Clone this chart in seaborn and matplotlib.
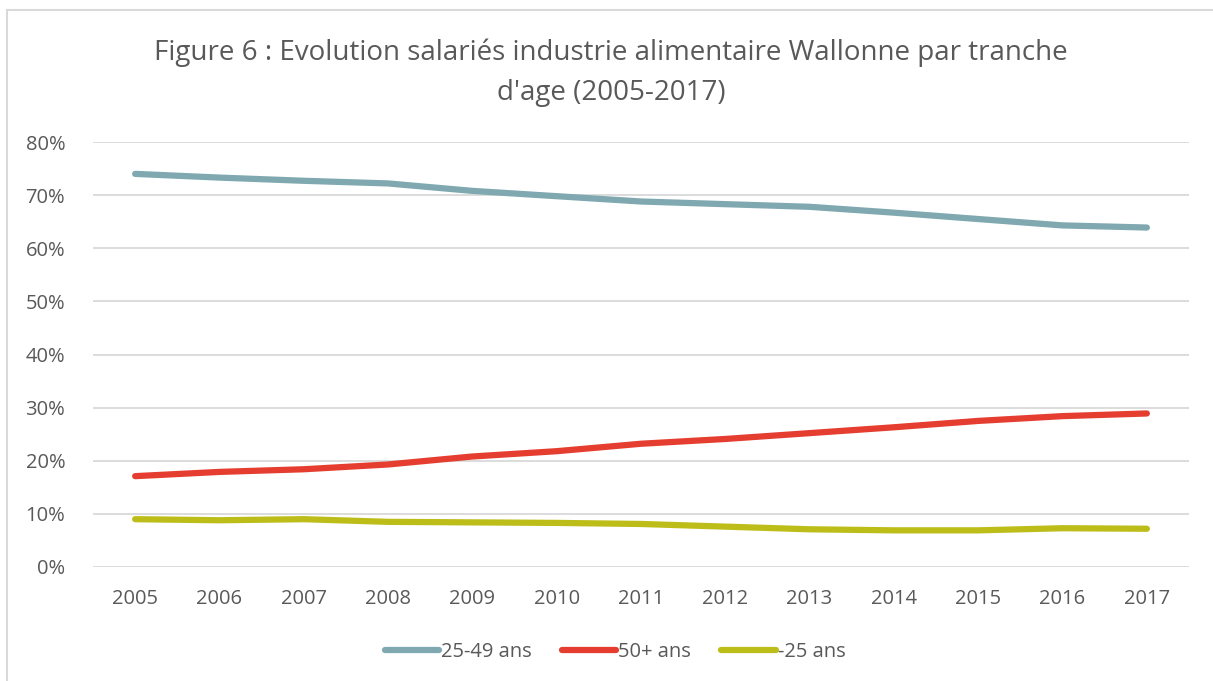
import matplotlib
matplotlib.use("Agg")
import matplotlib.pyplot as plt
import matplotlib.patches as mpatches
from matplotlib.ticker import PercentFormatter
import seaborn as sns
import pandas as pd

# values (share of employees, %)
years = [2005, 2006, 2007, 2008, 2009, 2010, 2011, 2012, 2013, 2014, 2015, 2016, 2017]
age_25_49 = [74.0, 73.3, 72.7, 72.2, 70.8, 69.8, 68.8, 68.3, 67.8, 66.7, 65.5, 64.3, 63.9]
age_50_plus = [17.1, 17.9, 18.4, 19.3, 20.8, 21.8, 23.2, 24.1, 25.2, 26.3, 27.5, 28.4, 28.9]
age_under_25 = [9.0, 8.8, 9.0, 8.5, 8.4, 8.3, 8.1, 7.6, 7.1, 6.9, 6.9, 7.3, 7.2]
series_names = ["25-49 ans", "50+ ans", "-25 ans"]
series_colors = ["#7FA8B0", "#E53E30", "#BDBD1A"]
y_ticks = [0, 10, 20, 30, 40, 50, 60, 70, 80]

df = pd.DataFrame({"Année": years,
                   series_names[0]: age_25_49,
                   series_names[1]: age_50_plus,
                   series_names[2]: age_under_25})
long_df = df.melt(id_vars="Année", var_name="Tranche", value_name="Part")
# categorical x axis like Excel
long_df["pos"] = long_df["Année"].map({y: i for i, y in enumerate(years)})

sns.set_theme(style="white")
plt.rcParams["font.family"] = ["Open Sans", "DejaVu Sans"]
text_color = "#595959"

fig = plt.figure(figsize=(12.13, 6.81), dpi=100)
ax = fig.add_axes([93 / 1213, 114 / 681, 1096 / 1213, 425 / 681])

# chart border (Excel chart area)
fig.patches.append(mpatches.Rectangle((7 / 1213, -0.05), 1.2, (671 / 681) + 0.05,
                                      transform=fig.transFigure, fill=False,
                                      edgecolor="#D9D9D9", linewidth=1.5))

sns.lineplot(data=long_df, x="pos", y="Part", hue="Tranche",
             palette=dict(zip(series_names, series_colors)),
             linewidth=4.5, ax=ax, legend=False, solid_capstyle="round")

ax.set_xlim(-0.5, len(years) - 0.5)
ax.set_ylim(0, 80)
ax.set_yticks(y_ticks)
ax.yaxis.set_major_formatter(PercentFormatter(decimals=0))
ax.set_xticks(range(len(years)))
ax.set_xticklabels([str(y) for y in years])
ax.grid(axis="y", color="#D9D9D9", linewidth=1.3)
ax.set_axisbelow(True)
for s in ax.spines.values():
    s.set_visible(False)
ax.tick_params(axis="both", colors=text_color, labelsize=14.5, length=0)
ax.tick_params(axis="y", pad=20)
ax.tick_params(axis="x", pad=16)
ax.set_xlabel("")
ax.set_ylabel("")

fig.text(611 / 1213, 1 - 53 / 681, "Figure 6 : Evolution salariés industrie alimentaire Wallonne par tranche",
         ha="center", va="center", fontsize=20, color=text_color)
fig.text(611 / 1213, 1 - 93 / 681, "d'age (2005-2017)",
         ha="center", va="center", fontsize=20, color=text_color)

handles = [plt.Line2D([], [], color=c, linewidth=4.5, solid_capstyle="round") for c in series_colors]
fig.legend(handles, series_names, loc="center", bbox_to_anchor=(615 / 1213, 1 - 652 / 681),
           ncol=3, frameon=False, fontsize=14.5, labelcolor=text_color,
           handlelength=2.7, handletextpad=0.1, columnspacing=1.5)

fig.savefig("out.png", dpi=100)
